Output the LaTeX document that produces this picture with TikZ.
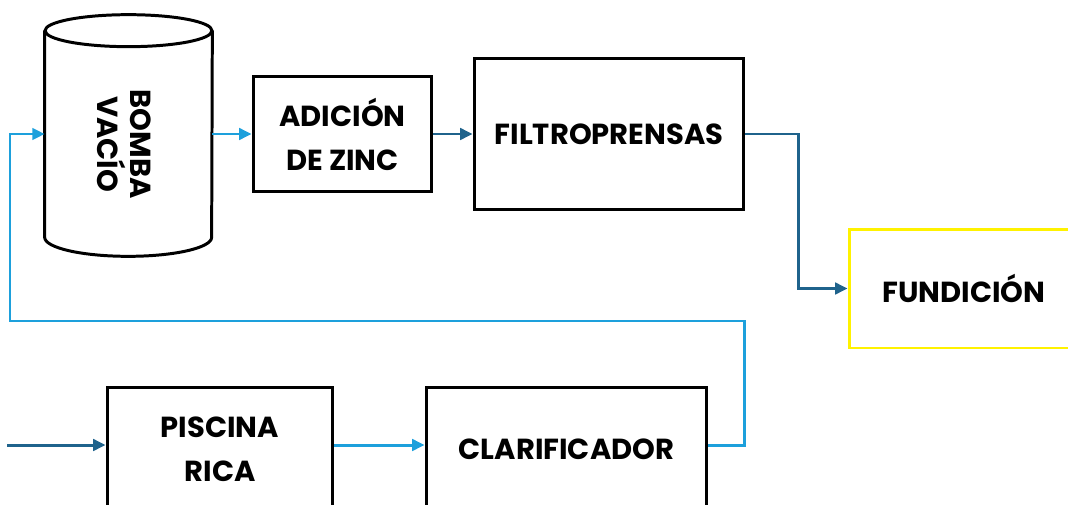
\documentclass[tikz,border=0pt]{standalone}
\usepackage{fontspec}
\setmainfont{Poppins}
\usetikzlibrary{arrows.meta}
\definecolor{lblue}{RGB}{29,160,220}
\definecolor{dblue}{RGB}{31,99,140}
\begin{document}
\begin{tikzpicture}[x=0.02cm,y=-0.02cm,
  font=\fontsize{16.5}{25}\selectfont\bfseries,
  box/.style={rectangle,draw,line width=1.7pt,align=center,inner sep=0pt},
  flow/.style={line width=1.7pt,-{Triangle[length=7pt,width=6.5pt]}}]
\useasboundingbox (0,0) rectangle (1068,504);
\clip (0,0) rectangle (1068,504);

% cuerpo del tanque
\path (128.5,134) node[rectangle,minimum width=3.34cm,minimum height=4.12cm,inner sep=0pt] (bomba) {};
\draw[line width=1.7pt] (bomba.north west) -- (bomba.south west)
  arc[start angle=180,end angle=360,x radius=1.67cm,y radius=0.38cm] -- (bomba.north east);
\draw[line width=1.7pt] (bomba.north) ellipse[x radius=1.67cm,y radius=0.32cm];
\path (124,144) node[rotate=-90,align=center,font=\fontsize{16.5}{19}\selectfont\bfseries] (bombatxt) {BOMBA\\VACÍO};

\path (342.5,134) node[box,minimum width=3.58cm,minimum height=2.32cm] (adicion) {ADICIÓN\\DE ZINC};
\path (609,134) node[box,minimum width=5.4cm,minimum height=3.02cm] (filtro) {FILTROPRENSAS};
\path (964,288.5) node[box,draw=yellow,minimum width=4.6cm,minimum height=2.38cm] (fundicion) {FUNDICIÓN};
\path (220,449) node[box,minimum width=4.52cm,minimum height=2.48cm] (piscina) {PISCINA\\RICA};
\path (566.5,449) node[box,minimum width=5.62cm,minimum height=2.48cm] (clarif) {CLARIFICADOR};

\coordinate (in) at (7,445);
\coordinate (loop) at (10,321);

\draw[flow,dblue] (in) -- (in -| piscina.west);
\draw[flow,lblue] (piscina.east |- in) -- (clarif.west |- in);
\draw[flow,lblue] (clarif.east |- in) -- ++(36,0) |- (loop) |- (bomba.west);
\draw[flow,lblue] (bomba.east) -- (adicion.west);
\draw[flow,dblue] (adicion.east) -- (filtro.west);
\draw[flow,dblue] (filtro.east) -- ++(53,0) |- (fundicion.west);
\end{tikzpicture}
\end{document}
